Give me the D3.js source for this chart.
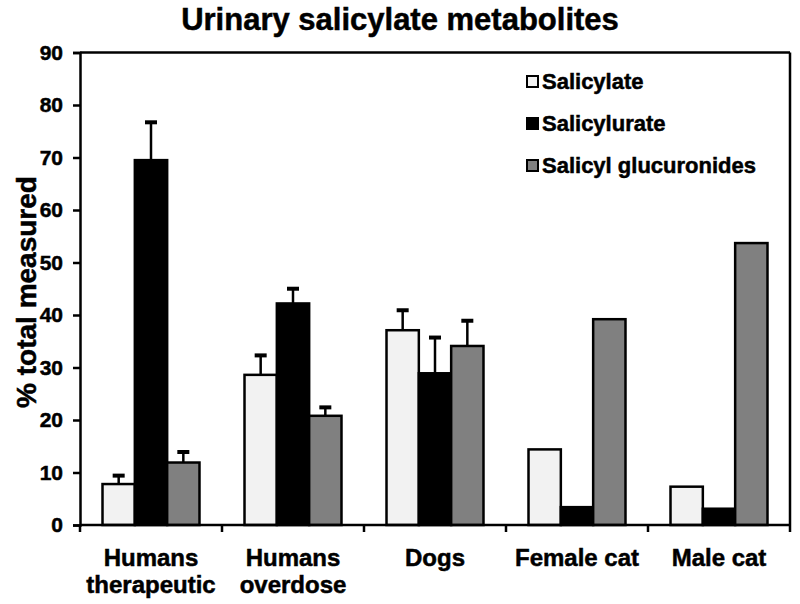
<!DOCTYPE html>
<html><head><meta charset="utf-8">
<script src="https://cdn.jsdelivr.net/npm/d3@7"></script>
<style>body{margin:0;background:#fff}svg{display:block}text{font-family:"Liberation Sans",Arial,sans-serif;font-weight:bold;stroke:#000;stroke-width:0.5px}</style>
</head><body><svg id="c" width="800" height="604"></svg>
<script>
const categories = [["Humans","therapeutic"],["Humans","overdose"],["Dogs"],["Female cat"],["Male cat"]];
const seriesNames = ["Salicylate","Salicylurate","Salicyl glucuronides"];
const salicylate   = [7.8, 28.6, 37.1, 14.4, 7.3];
const salicylurate = [69.5, 42.2, 28.9, 3.4, 3.1];
const glucuronides = [11.9, 20.8, 34.1, 39.2, 53.7];
const errSalicylate   = [1.7, 3.8, 3.9, 0, 0];
const errSalicylurate = [7.3, 2.9, 6.9, 0, 0];
const errGlucuronides = [2.1, 1.7, 4.9, 0, 0];
const yTicks = [0,10,20,30,40,50,60,70,80,90];
const colors = ["#f2f2f2","#000000","#808080"];

const values = [salicylate, salicylurate, glucuronides];
const errs = [errSalicylate, errSalicylurate, errGlucuronides];
const svg = d3.select("#c");
const L=80, R=790, T=52.5, B=525;
const x0 = d3.scaleBand().domain(d3.range(categories.length)).range([L,R]).paddingInner(0.317).paddingOuter(0.1585);
const x1 = d3.scaleBand().domain(d3.range(3)).range([0,x0.bandwidth()]);
const y = d3.scaleLinear().domain([0,90]).range([B,T]);

// title
svg.append("text").attr("x",400).attr("y",30).attr("text-anchor","middle").attr("font-size",31).text("Urinary salicylate metabolites");

// frame top/right
svg.append("line").attr("x1",L).attr("x2",R).attr("y1",T).attr("y2",T).attr("stroke","#000").attr("stroke-width",2.5);
svg.append("line").attr("x1",R).attr("x2",R).attr("y1",T).attr("y2",B).attr("stroke","#000").attr("stroke-width",2.5);

// bars
const data = [];
categories.forEach((c,i)=>values.forEach((s,j)=>data.push({i,j,v:s[i],e:errs[j][i]})));
const g = svg.append("g");
g.selectAll("rect").data(data).join("rect")
 .attr("x",d=>x0(d.i)+x1(d.j)).attr("width",x1.bandwidth())
 .attr("y",d=>y(d.v)).attr("height",d=>y(0)-y(d.v))
 .attr("fill",d=>colors[d.j]).attr("stroke","#000").attr("stroke-width",2.5);
// error bars
const eb = data.filter(d=>d.e>0);
g.selectAll("line.e").data(eb).join("line").attr("class","e")
 .attr("x1",d=>x0(d.i)+x1(d.j)+x1.bandwidth()/2).attr("x2",d=>x0(d.i)+x1(d.j)+x1.bandwidth()/2)
 .attr("y1",d=>y(d.v)).attr("y2",d=>y(d.v+d.e)).attr("stroke","#000").attr("stroke-width",2.5);
g.selectAll("rect.cap").data(eb).join("rect").attr("class","cap")
 .attr("x",d=>x0(d.i)+x1(d.j)+x1.bandwidth()/2-6).attr("width",12)
 .attr("y",d=>y(d.v+d.e)-1.5).attr("height",4).attr("fill","#000");

// y axis
const ya = svg.append("g").attr("transform",`translate(${L},0)`)
 .call(d3.axisLeft(y).tickValues(yTicks).tickSize(7).tickPadding(10));
ya.select(".domain").attr("stroke-width",2.5);
ya.selectAll(".tick line").attr("stroke-width",2.5);
ya.selectAll(".tick text").attr("font-size",21).attr("fill","#000").style("font-family",'"Liberation Sans",Arial,sans-serif');

// x axis
const xa = svg.append("g").attr("transform",`translate(0,${B})`);
xa.append("line").attr("x1",L).attr("x2",R).attr("stroke","#000").attr("stroke-width",2.5);
const stepB = d3.range(categories.length+1).map(i=>L + i*x0.step());
xa.selectAll("line.t").data(stepB).join("line").attr("class","t")
 .attr("x1",d=>d).attr("x2",d=>d).attr("y1",0).attr("y2",7).attr("stroke","#000").attr("stroke-width",2.5);
xa.selectAll("text").data(categories).join("text")
 .attr("text-anchor","middle").attr("font-size",24)
 .attr("transform",(d,i)=>`translate(${x0(i)+x0.bandwidth()/2},41)`)
 .selectAll("tspan").data(d=>d).join("tspan").attr("x",0).attr("dy",(d,k)=>k?27:0).text(d=>d);

// y label
svg.append("text").attr("transform","translate(36,292) rotate(-90)").attr("text-anchor","middle").attr("font-size",28).text("% total measured");

// legend
const lg = svg.append("g");
seriesNames.forEach((n,j)=>{
  const yy = 82 + j*42;
  lg.append("rect").attr("x",527).attr("y",yy-6).attr("width",11).attr("height",11).attr("fill",colors[j]).attr("stroke","#000").attr("stroke-width",2);
  lg.append("text").attr("x",542).attr("y",yy+7).attr("font-size",22).text(n);
});
</script></body></html>
